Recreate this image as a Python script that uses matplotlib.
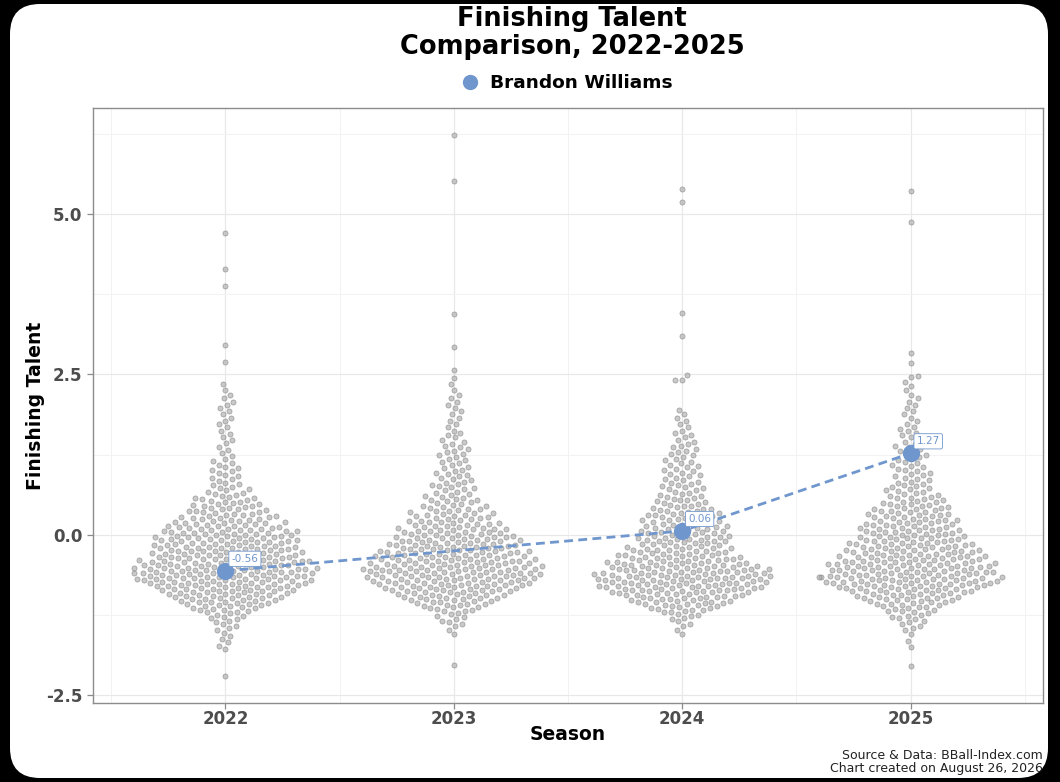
"""Finishing Talent beeswarm by season, one player's path drawn on top."""

import matplotlib

matplotlib.use("Agg")
import matplotlib.pyplot as plt
import numpy as np
import pandas as pd
import seaborn as sns
from matplotlib.lines import Line2D
from matplotlib.patches import FancyBboxPatch
from matplotlib.transforms import IdentityTransform

SEASONS = ["2022", "2023", "2024", "2025"]

# league players per 0.1-wide band; band lower edges -1.9 .. 2.4
BAND_LO = np.round(np.arange(-1.9, 2.45, 0.1), 2)
COUNTS_2022 = [0, 2, 2, 2, 3, 4, 6, 10, 14, 17, 20, 24, 26, 25, 24, 22, 21, 20, 19, 18, 15, 13,
               11, 10, 8, 6, 5, 4, 4, 4, 3, 2, 2, 2, 2, 2, 2, 2, 2, 2, 2, 1, 1, 0]
COUNTS_2023 = [0, 0, 0, 1, 2, 4, 4, 8, 12, 15, 19, 22, 24, 25, 23, 21, 20, 18, 17, 15, 13, 11,
               10, 8, 7, 6, 6, 5, 5, 4, 4, 4, 4, 3, 3, 2, 2, 2, 2, 2, 2, 1, 1, 0]
COUNTS_2024 = [0, 0, 0, 1, 2, 3, 5, 10, 14, 17, 22, 24, 25, 23, 20, 17, 15, 13, 13, 12, 11, 10,
               10, 8, 7, 6, 6, 5, 5, 5, 4, 4, 4, 3, 3, 2, 2, 2, 1, 0, 0, 0, 0, 0]
COUNTS_2025 = [0, 1, 1, 1, 3, 4, 6, 8, 12, 15, 19, 24, 25, 23, 22, 20, 18, 17, 15, 14, 13, 12,
               11, 10, 8, 7, 6, 5, 5, 5, 4, 4, 4, 3, 3, 3, 2, 2, 2, 2, 2, 1, 2, 0]

# single players outside the bands
OUTLIERS_2022 = [-2.20, 2.69, 2.96, 3.88, 4.14, 4.70]
OUTLIERS_2023 = [-2.03, 2.45, 2.57, 2.93, 3.44, 5.51, 6.23]
OUTLIERS_2024 = [2.41, 2.42, 2.49, 3.10, 3.46, 5.19, 5.39]
OUTLIERS_2025 = [-2.04, 2.46, 2.47, 2.68, 2.83, 4.88, 5.36]

PLAYER = "Brandon Williams"
PLAYER_VALUES = [-0.56, np.nan, 0.06, 1.27]

BLUE = "#6f96cd"
GREY_TEXT = "#4d4d4d"


def season_values(counts, outliers):
    vals = []
    for lo, n in zip(BAND_LO, counts):
        if n:
            vals.extend(lo + (np.arange(n) + 0.5) / n * 0.1)
    vals.extend(outliers)
    return vals


def main():
    plt.rcParams["font.family"] = "DejaVu Sans"
    plt.rcParams["font.weight"] = "bold"
    plt.rcParams["axes.unicode_minus"] = False

    per_season = [
        season_values(COUNTS_2022, OUTLIERS_2022),
        season_values(COUNTS_2023, OUTLIERS_2023),
        season_values(COUNTS_2024, OUTLIERS_2024),
        season_values(COUNTS_2025, OUTLIERS_2025),
    ]
    df = pd.DataFrame(
        [(s, v) for s, vals in zip(SEASONS, per_season) for v in vals],
        columns=["season", "value"],
    )

    fig = plt.figure(figsize=(10.6, 7.82), dpi=100)
    fig.patch.set_facecolor("black")
    card = FancyBboxPatch((10, 4), 1038, 774, boxstyle="round,pad=0,rounding_size=30",
                          transform=IdentityTransform(), facecolor="white",
                          edgecolor="none", zorder=-5)
    fig.add_artist(card)

    ax = fig.add_axes([93 / 1060, 1 - 703 / 782, 950 / 1060, 595 / 782])
    ax.set_facecolor("white")
    ax.set_xlim(-0.58, 3.58)
    ax.set_ylim(-2.62, 6.65)

    # lay the swarm out with a loose spacing, then redraw the dots smaller
    sns.swarmplot(data=df, x="season", y="value", order=SEASONS, ax=ax,
                  size=4.9, linewidth=0, warn_thresh=1)
    ax.set_xlim(-0.58, 3.58)
    ax.set_ylim(-2.62, 6.65)
    fig.canvas.draw()
    for coll in list(ax.collections):
        offs = np.asarray(coll.get_offsets())
        coll.remove()
        ax.scatter(offs[:, 0], offs[:, 1], s=3.7 ** 2, color="#a6a6a6",
                   edgecolor="#6e6e6e", linewidth=0.5, alpha=0.6, zorder=3)

    # player path: line skips the missing season
    xs = np.arange(len(SEASONS))
    vals = np.array(PLAYER_VALUES)
    ok = ~np.isnan(vals)
    ax.plot(xs[ok], vals[ok], color=BLUE, lw=2, dashes=(3.2, 1.9), zorder=4)
    ax.scatter(xs[ok], vals[ok], s=130, color=BLUE, edgecolor=BLUE, zorder=5)
    for x, v in zip(xs[ok], vals[ok]):
        ax.annotate(f"{v:.2f}", (x, v), xytext=(6, 7), textcoords="offset pixels",
                    ha="left", va="bottom", fontsize=7.5, fontweight="normal", color=BLUE,
                    bbox=dict(boxstyle="round,pad=0.25,rounding_size=0.15", fc="white",
                              ec=BLUE, lw=0.6), zorder=6)

    ax.set_xlim(-0.58, 3.58)
    ax.set_ylim(-2.62, 6.65)
    ax.set_xticks(xs, SEASONS)
    ax.set_xticks([-0.5, 0.5, 1.5, 2.5, 3.5], minor=True)
    ax.set_yticks([-2.5, 0.0, 2.5, 5.0], ["-2.5", "0.0", "2.5", "5.0"])
    ax.set_yticks([-1.25, 1.25, 3.75, 6.25], minor=True)
    ax.grid(True, which="major", color="#e8e8e8", lw=0.9, zorder=0)
    ax.grid(True, which="minor", color="#f2f2f2", lw=0.7, zorder=0)
    ax.set_axisbelow(True)
    ax.tick_params(which="major", length=4, width=0.9, color="#8c8c8c",
                   labelcolor=GREY_TEXT, labelsize=12)
    ax.tick_params(axis="x", which="major", pad=1)
    ax.tick_params(which="minor", length=0)
    for side in ax.spines.values():
        side.set_color("#8c8c8c")
        side.set_linewidth(1.0)

    ax.set_xlabel("Season", fontsize=13.5, fontweight="bold", labelpad=-2)
    ax.set_ylabel("Finishing Talent", fontsize=13.5, fontweight="bold", labelpad=1)

    fig.text(572 / 1060, 1 - 33 / 782, "Finishing Talent\nComparison, 2022-2025",
             ha="center", va="center", fontsize=18.5, linespacing=1.05)
    handle = Line2D([], [], marker="o", ls="", color=BLUE, markersize=10)
    fig.legend([handle], [PLAYER], loc="center", bbox_to_anchor=(562 / 1060, 1 - 83 / 782),
               frameon=False, prop={"size": 13.3, "weight": "bold"}, handletextpad=0.1,
               borderaxespad=0)

    src = fig.text(1043 / 1060, 1 - 762 / 782,
                   "Source & Data: BBall-Index.com\nChart created on August 26, 2026",
                   ha="right", va="center", fontsize=9, fontweight="normal",
                   color="#222222", linespacing=1.05)
    src.set_clip_path(card)

    fig.savefig("out.png", dpi=100, facecolor=fig.get_facecolor())


if __name__ == "__main__":
    main()
